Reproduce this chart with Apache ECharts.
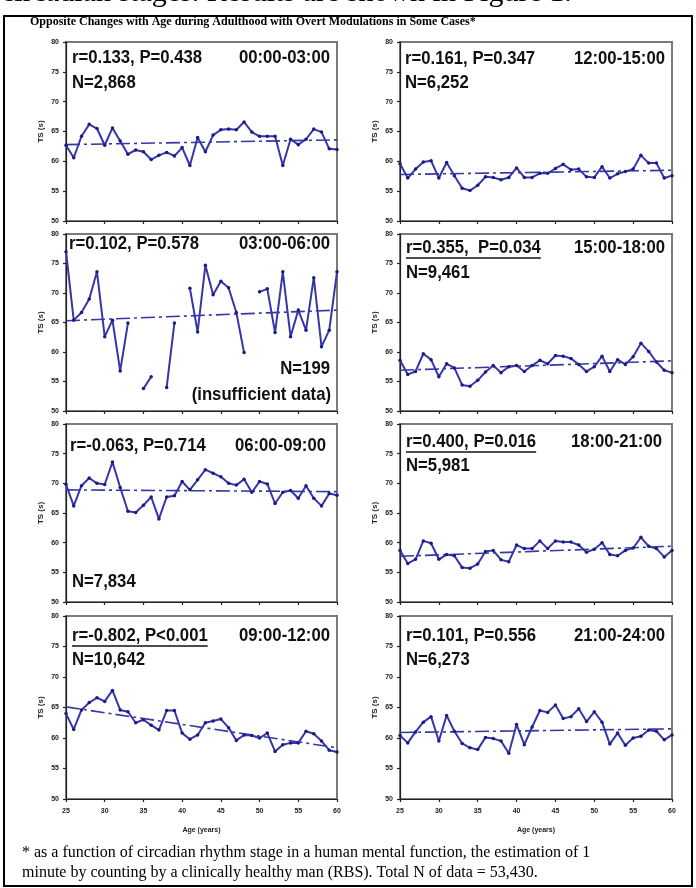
<!DOCTYPE html>
<html><head><meta charset="utf-8">
<script src="https://cdn.jsdelivr.net/npm/echarts@6/dist/echarts.min.js"></script>
<style>html,body{margin:0;padding:0;background:#fff}#c{width:696px;height:888px}</style>
</head><body><div id="c"></div>
<script>
// ---------- DATA ----------
const ages = [25,26,27,28,29,30,31,32,33,34,35,36,37,38,39,40,41,42,43,44,45,46,47,48,49,50,51,52,53,54,55,56,57,58,59,60];
const xTicks = [25,30,35,40,45,50,55,60];
const yTicks = [50,55,60,65,70,75,80];

const ts0003 = [62.7,60.6,64.2,66.2,65.5,62.7,65.6,63.4,61.2,61.9,61.6,60.3,61.0,61.5,60.9,62.3,59.3,64.0,61.6,64.4,65.3,65.4,65.3,66.6,64.9,64.2,64.2,64.2,59.3,63.7,62.8,63.7,65.4,64.9,62.1,62.0];
const ts0306 = [77.0,65.4,66.7,69.0,73.6,62.6,65.4,56.8,64.9,null,53.8,55.8,null,54.0,64.9,null,70.8,63.4,74.7,69.7,72.0,70.9,66.7,59.9,null,70.2,70.7,63.3,73.6,62.6,67.1,63.7,72.6,60.9,63.7,73.6];
const ts0609 = [69.8,66.2,69.6,70.9,70.0,69.8,73.6,69.3,65.3,65.1,66.3,67.7,64.0,67.7,67.9,70.3,68.9,70.6,72.3,71.7,71.1,70.0,69.7,70.7,68.5,70.3,69.9,66.6,68.5,68.8,67.5,69.6,67.5,66.2,68.3,68.0];
const ts0912 = [64.0,61.4,64.6,65.8,66.6,66.0,67.8,64.6,64.3,62.5,63.0,62.1,61.3,64.5,64.5,60.8,59.8,60.5,62.5,62.8,63.1,61.7,59.6,60.5,60.4,60.0,60.8,57.8,58.9,59.2,59.2,61.1,60.7,59.5,58.0,57.7];
const ts1215 = [59.6,57.2,58.7,59.9,60.1,57.2,59.8,57.6,55.5,55.1,56.0,57.4,57.3,56.9,57.3,58.9,57.3,57.3,58.0,58.0,58.8,59.5,58.6,58.7,57.4,57.3,59.1,57.2,57.9,58.3,58.7,61.0,59.7,59.7,57.2,57.6];
const ts1518 = [58.6,56.2,56.7,59.7,58.7,55.8,58.0,57.3,54.4,54.2,55.2,56.6,57.7,56.5,57.5,57.7,56.7,57.7,58.6,58.0,59.4,59.3,58.9,57.9,56.7,57.5,59.3,56.7,58.7,57.9,59.2,61.5,60.1,58.3,56.9,56.5];
const ts1821 = [58.7,56.5,57.2,60.3,59.9,57.2,58.0,57.8,55.8,55.7,56.4,58.5,58.7,57.1,56.8,59.6,59.0,59.0,60.3,59.0,60.3,60.1,60.1,59.6,58.4,58.9,60.0,58.0,57.8,58.7,59.1,60.9,59.4,59.0,57.6,58.7];
const ts2124 = [60.4,59.2,61.0,62.6,63.5,59.5,63.7,61.1,59.1,58.4,58.1,60.1,59.9,59.5,57.5,62.2,58.9,61.8,64.5,64.2,65.4,63.2,63.5,64.8,62.7,64.3,62.6,59.0,60.8,58.8,60.0,60.3,61.3,61.1,59.7,60.5];

// regression line values at age 25 and age 60
const trend0003 = [62.8,63.6];
const trend0306 = [65.3,67.1];
const trend0609 = [68.9,68.6];
const trend0912 = [65.1,58.4];
const trend1215 = [57.8,58.5];
const trend1518 = [56.9,58.5];
const trend1821 = [57.7,59.4];
const trend2124 = [60.9,61.5];

const stages = ['00:00-03:00','03:00-06:00','06:00-09:00','09:00-12:00','12:00-15:00','15:00-18:00','18:00-21:00','21:00-24:00'];
const rTexts = ['r=0.133, P=0.438','r=0.102, P=0.578','r=-0.063, P=0.714','r=-0.802, P<0.001','r=0.161, P=0.347','r=0.355,  P=0.034','r=0.400, P=0.016','r=0.101, P=0.556'];
const nTexts = ['N=2,868','N=199','N=7,834','N=10,642','N=6,252','N=9,461','N=5,981','N=6,273'];
const underlined = [false,false,false,true,false,true,true,false];

const seriesVals = [ts0003,ts0306,ts0609,ts0912,ts1215,ts1518,ts1821,ts2124];
const trends = [trend0003,trend0306,trend0609,trend0912,trend1215,trend1518,trend1821,trend2124];

// ---------- LAYOUT ----------
const colX = [[66,271],[400,272]];
const rowY = [[42,179],[234,177],[424,178],[616,183]];
const annot = [
  {r:[72,58], st:[330,58], n:[72,83,'left']},
  {r:[69,244], st:[330,244], n:[330,369,'right'], extra:['(insufficient data)',331,395]},
  {r:[70,446], st:[326,446], n:[72,582,'left']},
  {r:[72,636], st:[330,636], n:[72,660,'left']},
  {r:[405,59], st:[665,59], n:[405,83,'left']},
  {r:[406,248], st:[665,248], n:[406,273,'left']},
  {r:[406,442], st:[662,442], n:[406,466,'left']},
  {r:[406,636], st:[665,636], n:[406,660,'left']}
];

const annFont = 'bold 19px "Liberation Sans", Arial, sans-serif';
const annScale = 0.88;
const mctx = document.createElement('canvas').getContext('2d');
function tw(t, f){ mctx.font = f; return mctx.measureText(t).width; }
function annText(txt, x, y, align) {
  return {type: 'text', x: x, y: y, scaleX: annScale, scaleY: 1, z: 10,
    style: {text: txt, font: annFont, fill: '#111', textAlign: align, textVerticalAlign: 'middle', align: align, verticalAlign: 'middle'}};
}

const grids = [], xAxes = [], yAxes = [], series = [], graphic = [];
const lineColor = '#3636a8';
for (let i = 0; i < 8; i++) {
  const col = i < 4 ? 0 : 1, row = i % 4;
  const bottom = row === 3;
  grids.push({left: colX[col][0], width: colX[col][1], top: rowY[row][0], height: rowY[row][1],
    show: true, borderColor: '#7a7a7a', borderWidth: 2, backgroundColor: '#fff'});
  xAxes.push({gridIndex: i, type: 'value', min: xTicks[0], max: xTicks[xTicks.length-1], interval: 5,
    axisLine: {show: true, onZero: false, lineStyle: {color: '#222', width: 1.2}},
    axisTick: {show: true, length: 3, lineStyle: {color: '#222', width: 1.2}},
    axisLabel: {show: bottom, fontSize: 7, fontWeight: 'bold', color: '#222', margin: 9, fontFamily: 'Liberation Sans'},
    splitLine: {show: false},
    name: bottom ? 'Age (years)' : '', nameLocation: 'middle', nameGap: 28,
    nameTextStyle: {fontSize: 7, fontWeight: 'bold', color: '#222', fontFamily: 'Liberation Sans'}});
  yAxes.push({gridIndex: i, type: 'value', min: yTicks[0], max: yTicks[yTicks.length-1], interval: 5,
    axisLine: {show: true, lineStyle: {color: '#222', width: 1.2}},
    axisTick: {show: true, length: 3, lineStyle: {color: '#222', width: 1.2}},
    axisLabel: {fontSize: 7, fontWeight: 'bold', color: '#222', margin: 7, fontFamily: 'Liberation Sans'},
    splitLine: {show: false},
    name: 'TS (s)', nameLocation: 'middle', nameGap: 21, nameRotate: 90,
    nameTextStyle: {fontSize: 8, fontWeight: 'bold', color: '#222', fontFamily: 'Liberation Sans'}});
  const vals = seriesVals[i];
  series.push({type: 'line', xAxisIndex: i, yAxisIndex: i, connectNulls: false,
    data: ages.map((a, k) => [a, vals[k] === null ? '-' : vals[k]]),
    symbol: 'circle', symbolSize: 3.5, showSymbol: true,
    lineStyle: {color: lineColor, width: 2}, itemStyle: {color: '#1c1c80'},
    animation: false, z: 3});
  series.push({type: 'line', xAxisIndex: i, yAxisIndex: i,
    data: [[ages[0], trends[i][0]], [ages[ages.length-1], trends[i][1]]],
    symbol: 'none', lineStyle: {color: lineColor, width: 1.6, type: [14, 4, 3, 4]},
    animation: false, z: 2});

  const a = annot[i];
  graphic.push(annText(rTexts[i], a.r[0], a.r[1], 'left'));
  graphic.push(annText(stages[i], a.st[0], a.st[1], 'right'));
  graphic.push(annText(nTexts[i], a.n[0], a.n[1], a.n[2]));
  if (a.extra) graphic.push(annText(a.extra[0], a.extra[1], a.extra[2], 'right'));
  if (underlined[i]) {
    const w = tw(rTexts[i], annFont) * annScale;
    graphic.push({type: 'line', z: 10, shape: {x1: a.r[0], y1: a.r[1] + 10, x2: a.r[0] + w, y2: a.r[1] + 10},
      style: {stroke: '#111', lineWidth: 1.5}});
  }
}

// frame and page texts
graphic.push({type: 'rect', z: 0, shape: {x: 4, y: 16, width: 688, height: 870}, style: {fill: 'none', stroke: '#000', lineWidth: 2}});
graphic.push({type: 'text', x: 1, y: 8, z: 10, style: {text: 'circadian stages. Results are shown in Figure 1.', font: '30px "Liberation Serif", serif', fill: '#000', textAlign: 'left', textVerticalAlign: 'bottom', align: 'left', verticalAlign: 'bottom'}});
graphic.push({type: 'text', x: 30, y: 22, z: 10, style: {text: 'Opposite Changes with Age during Adulthood with Overt Modulations in Some Cases*', font: 'bold 12px "Liberation Serif", serif', fill: '#000', textAlign: 'left', textVerticalAlign: 'middle', align: 'left', verticalAlign: 'middle'}});
graphic.push({type: 'text', x: 22, y: 853, z: 10, style: {text: '* as a function of circadian rhythm stage in a human mental function, the estimation of 1', font: '16px "Liberation Serif", serif', fill: '#000', textAlign: 'left', textVerticalAlign: 'middle', align: 'left', verticalAlign: 'middle'}});
graphic.push({type: 'text', x: 22, y: 873, z: 10, style: {text: 'minute by counting by a clinically healthy man (RBS). Total N of data = 53,430.', font: '16px "Liberation Serif", serif', fill: '#000', textAlign: 'left', textVerticalAlign: 'middle', align: 'left', verticalAlign: 'middle'}});

const chart = echarts.init(document.getElementById('c'), null, {renderer: 'canvas'});
chart.setOption({
  backgroundColor: '#fff',
  animation: false,
  grid: grids, xAxis: xAxes, yAxis: yAxes, series: series, graphic: graphic
});
</script></body></html>
